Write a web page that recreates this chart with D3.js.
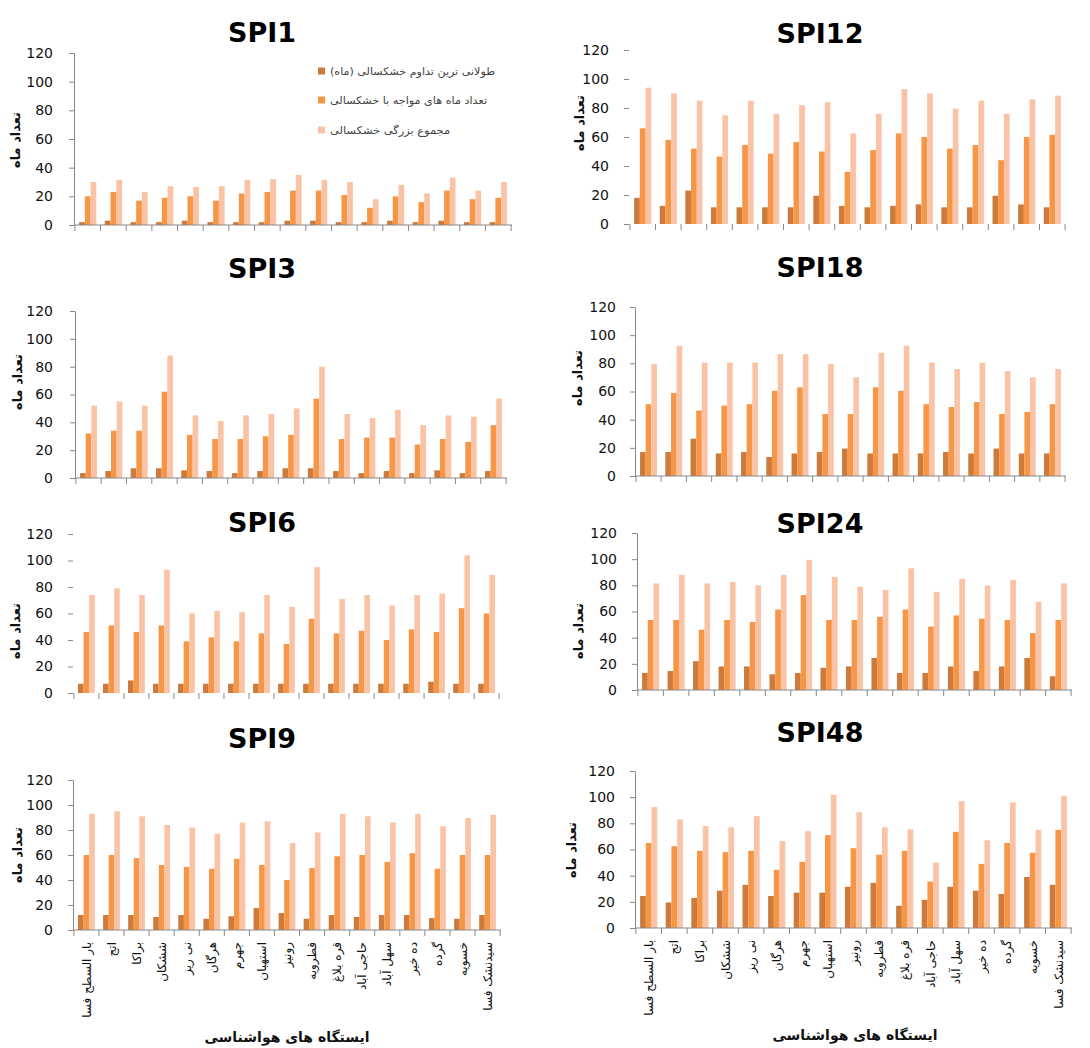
<!DOCTYPE html>
<html><head><meta charset="utf-8">
<script src="https://cdn.jsdelivr.net/npm/d3@7"></script>
<style>body{margin:0;background:#fff} svg{display:block}</style>
</head><body>
<svg id="c" width="1090" height="1048"></svg>
<script>
// ---------------- DATA ----------------
const stations = ["بار السطح فسا","اتج","براکا","ششکان","نی ریز","هرگان","جهرم","استهبان","رونیز","قطرویه","قره بلاغ","حاجی آباد","سهل آباد","ده خیر","گرده","خسویه","سیدنشک فسا"];
const seriesNames = ["طولانی ترین تداوم خشکسالی (ماه)","تعداد ماه های مواجه با خشکسالی","مجموع بزرگی خشکسالی"];
const yTicks = [0,20,40,60,80,100,120];
const yAxisTitle = "تعداد ماه";
const xAxisTitle = "ایستگاه های هواشناسی";
const panelNames = ["SPI1","SPI3","SPI6","SPI9","SPI12","SPI18","SPI24","SPI48"];

const spi1Longest = [2,3,2,2,3,2,2,2,3,3,2,2,3,2,3,2,2];
const spi1Count   = [20,23,17,19,20,17,22,23,24,24,21,12,20,16,24,18,19];
const spi1Mag     = [30,31.5,23,27,26.6,27,31.5,32,35,31.5,30,18,28,22,33,24,30];

const spi3Longest = [3.5,5,7,7,5.5,5,3.5,5,7,7,5,3.5,5,3.5,5.5,3.5,5];
const spi3Count   = [32,34,34,62,31,28,28,30,31,57,28,29,29,24,28,26,38];
const spi3Mag     = [52,55,52,88,45,41,45,46,50,80,46,43,49,38,45,44,57];

const spi6Longest = [7,7,9.5,7,7,7,7,7,7,7,7,7,7,7,8.5,7,7];
const spi6Count   = [46,51,46,51,39,42,39,45,37,56,45,47,40,48,46,64,60];
const spi6Mag     = [74,79,74,93,60,62,61,74,65,95,71,74,66,74,75,104,89];

const spi9Longest = [12,12,12,10.5,12,9,11,17.5,13.5,9,12,10.5,12,12,9.5,9,12];
const spi9Count   = [60,60,57.5,52,50.5,49,57,52,40,49.5,59,60,54.5,61.5,49,60,60];
const spi9Mag     = [93,95,91,84,82,77,86,87,69.5,78,93,91,86,93,83,89.5,92];

const spi12Longest = [18,12.5,23,11.5,11.5,11.5,11.5,19.5,12.5,11.5,12.5,13.5,11.5,11.5,19.5,13.5,11.5];
const spi12Count   = [66,58,52,46.5,54.5,48.5,56.5,50,36,51,62.5,60,52,54.5,44,60,61.5];
const spi12Mag     = [94,90,85,75,85,76,82,84,62.5,76,93,90,79.5,85,76,86,88.5];

const spi18Longest = [17,17,26.5,16,17,13.5,16,17,19.5,16,16,16,17,16,19.5,16,16];
const spi18Count   = [51,59,46.5,50,51,60.5,63,44,44,63,60.5,51,49,52.5,44,45.5,51];
const spi18Mag     = [79.5,92.5,80.5,80.5,80.5,86.5,86.5,79.5,70,87.5,92.5,80.5,76,80.5,74.5,70,76];

const spi24Longest = [13,14.5,22,18,18,12,13,17,18,24.5,13,13,18,14.5,18,24.5,10.5];
const spi24Count   = [53.5,53.5,46,53.5,52,61.5,72.5,53.5,53.5,56,61.5,48.5,57,54.5,53.5,43.5,53.5];
const spi24Mag     = [81.5,88,81.5,82.5,80,88,99.5,86.5,79,76.5,93,75,85,80,84,67.5,81.5];

const spi48Longest = [24.5,19.5,23,28.5,33,24.5,27,27,31.5,34.5,17,21.5,31.5,28.5,26,39,33];
const spi48Count   = [65,62.5,59,58,59,44.5,50.5,71,61,56,59,35.5,73.5,49,65,57.5,75];
const spi48Mag     = [92.5,83,78,77,85.5,66.5,74,102,88.5,77,75.5,50,97,67,96,75,101];

const panelData = {
  SPI1:[spi1Longest,spi1Count,spi1Mag], SPI3:[spi3Longest,spi3Count,spi3Mag],
  SPI6:[spi6Longest,spi6Count,spi6Mag], SPI9:[spi9Longest,spi9Count,spi9Mag],
  SPI12:[spi12Longest,spi12Count,spi12Mag], SPI18:[spi18Longest,spi18Count,spi18Mag],
  SPI24:[spi24Longest,spi24Count,spi24Mag], SPI48:[spi48Longest,spi48Count,spi48Mag]
};

// ---------------- LAYOUT / STYLE ----------------
const colors = ["#cd7a3a","#f79646","#fbc3a5"];
const layout = {
  SPI1: {title:[262,32], x:[74,512],  y:[225,53],  labelX:53,  yTitle:[15,140], lines:true,  xLabels:false},
  SPI3: {title:[262,268],x:[75,507],  y:[478,311], labelX:53,  yTitle:[17,382], lines:true,  xLabels:false},
  SPI6: {title:[262,522],x:[73,500],  y:[693,534], labelX:53,  yTitle:[15,631], lines:false, xLabels:false},
  SPI9: {title:[262,738],x:[73,501],  y:[930,780], labelX:53,  yTitle:[17,855], lines:true,  xLabels:true, xTitle:[287,1042]},
  SPI12:{title:[820,33], x:[629,1066],y:[224,50],  labelX:609, yTitle:[579,123], lines:false, xLabels:false},
  SPI18:{title:[820,267],x:[635,1066],y:[476,307], labelX:616, yTitle:[577,378], lines:true,  xLabels:false},
  SPI24:{title:[820,523],x:[637,1072],y:[690,533], labelX:617, yTitle:[578,631], lines:true,  xLabels:false},
  SPI48:{title:[820,732],x:[635,1072],y:[928,771], labelX:615, yTitle:[571,850], lines:true,  xLabels:true, xTitle:[855,1040]}
};
const legendLayout = {x:318, ys:[71,100,130], widths:[165,157,120]};

const svg = d3.select("#c");
const FONT = "DejaVu Sans, sans-serif";

panelNames.forEach(name => {
  const L = layout[name];
  const series = panelData[name];
  const g = svg.append("g");
  const x0 = d3.scaleBand().domain(stations).range(L.x).paddingInner(0.33).paddingOuter(0.2);
  const x1 = d3.scaleBand().domain([0,1,2]).range([0, x0.bandwidth()]);
  const y = d3.scaleLinear().domain([0,120]).range(L.y);

  // bars
  series.forEach((vals, si) => {
    g.append("g").selectAll("rect").data(vals).join("rect")
      .attr("x", (d,i) => x0(stations[i]) + x1(si))
      .attr("y", d => y(d))
      .attr("width", x1.bandwidth())
      .attr("height", d => y(0) - y(d))
      .attr("fill", colors[si]);
  });

  // y axis
  const axisX = L.x[0];
  const ya = g.append("g").attr("transform", `translate(${axisX},0)`)
    .call(d3.axisLeft(y).tickValues(yTicks).tickSize(5).tickSizeOuter(0).tickPadding(axisX - L.labelX - 5));
  ya.selectAll("text").attr("font-family", FONT).attr("font-size", 14).attr("fill", "#111");
  ya.selectAll(".tick line").attr("stroke", "#888");
  ya.select(".domain").attr("stroke", "#888").attr("opacity", L.lines ? 1 : 0);

  // x axis line and ticks between categories
  const step = x0.step();
  const bounds = stations.map(s => x0(s) - step * 0.165);
  bounds.push(x0(stations[stations.length-1]) + x0.bandwidth() + step * 0.165);
  if (L.lines) {
    g.append("line").attr("x1", L.x[0]).attr("x2", L.x[1]).attr("y1", y(0)).attr("y2", y(0))
      .attr("stroke", "#888").attr("stroke-width", 1);
  }
  g.append("g").selectAll("line").data(bounds).join("line")
    .attr("x1", d => d).attr("x2", d => d)
    .attr("y1", y(0)).attr("y2", y(0) + 6)
    .attr("stroke", "#888");

  // title
  g.append("text").attr("x", L.title[0]).attr("y", L.title[1] + 10)
    .attr("text-anchor", "middle").attr("font-family", FONT).attr("font-weight", "bold")
    .attr("font-size", 27).attr("fill", "#000").text(name);

  // y title
  g.append("text").attr("transform", `translate(${L.yTitle[0]},${L.yTitle[1]}) rotate(-90)`)
    .attr("text-anchor", "middle").attr("dy", "0.35em")
    .attr("font-family", FONT).attr("font-weight", "bold").attr("font-size", 13)
    .attr("fill", "#111").text(yAxisTitle);

  if (L.xLabels) {
    g.append("g").selectAll("text").data(stations).join("text")
      .attr("transform", s => `translate(${x0(s) + x0.bandwidth()/2},${y(0) + 12}) rotate(-90)`)
      .attr("text-anchor", "end").attr("dy", "0.35em")
      .attr("font-family", FONT).attr("font-size", 12).attr("fill", "#111")
      .text(s => s);
    g.append("text").attr("x", L.xTitle[0]).attr("y", L.xTitle[1])
      .attr("text-anchor", "middle").attr("font-family", FONT).attr("font-weight", "bold")
      .attr("font-size", 14).attr("fill", "#111").text(xAxisTitle);
  }
});

// legend (SPI1 panel)
const lg = svg.append("g");
seriesNames.forEach((n, i) => {
  lg.append("rect").attr("x", legendLayout.x).attr("y", legendLayout.ys[i] - 3.5)
    .attr("width", 7).attr("height", 7).attr("fill", colors[i]);
  lg.append("text").attr("x", legendLayout.x + 12).attr("y", legendLayout.ys[i]).attr("dy", "0.35em")
    .attr("font-family", FONT).attr("font-size", 10.5).attr("fill", "#444")
    .attr("textLength", legendLayout.widths[i]).attr("lengthAdjust", "spacingAndGlyphs")
    .text(n);
});
</script>
</body></html>
